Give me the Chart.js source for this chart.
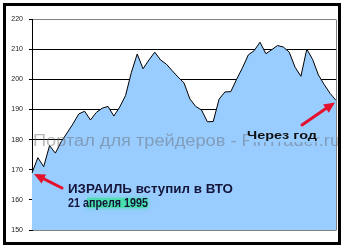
<!DOCTYPE html>
<html>
<head>
<meta charset="utf-8">
<script src="https://cdn.jsdelivr.net/npm/chart.js@4/dist/chart.umd.min.js"></script>
<style>
  html, body { margin: 0; padding: 0; background: #fff; }
</style>
</head>
<body>
<canvas id="chart" width="348" height="249"></canvas>
<script>
// weekly index values
const index = [168.9, 174, 171, 178, 175.5, 179.3, 182.2, 185.2, 188.5, 189.4,
  186.5, 189, 190.4, 191, 187.8, 190.8, 194.6, 202.3, 208.4, 203.5,
  206.4, 209, 206.4, 205, 202.8, 200.7, 198.8, 193.5, 191, 189.8,
  185.9, 186, 193.4, 195.8, 195.9, 200, 203.8, 208.1, 209.5, 212.3,
  208.5, 209.8, 211.2, 210.7, 209, 204, 201, 210, 206.6, 201.4,
  198.2, 195.3, 193];
const weeks = index.map((_, i) => i + 1);
const yMin = 150, yMax = 220, yStep = 10;

const watermark = 'Портал для трейдеров - FinTrader.ru';
const noteStart = ['ИЗРАИЛЬ вступил в ВТО', '21 апреля 1995'];
const noteEnd = 'Через год';

// squeeze/stretch text to a given width
function fitText(c, text, x, y, width, font) {
  c.font = font;
  const w = c.measureText(text).width;
  c.save();
  c.translate(x, y);
  c.scale(width / w, 1);
  c.fillText(text, 0, 0);
  c.restore();
}

function arrow(c, x1, y1, x2, y2, head, half) {
  const a = Math.atan2(y2 - y1, x2 - x1);
  const cos = Math.cos(a), sin = Math.sin(a);
  c.strokeStyle = '#e4102c';
  c.fillStyle = '#e4102c';
  c.lineWidth = 3;
  c.lineCap = 'round';
  c.beginPath();
  c.moveTo(x1, y1);
  c.lineTo(x2 - cos * head * 0.8, y2 - sin * head * 0.8);
  c.stroke();
  c.beginPath();
  c.moveTo(x2, y2);
  c.lineTo(x2 - cos * head + sin * half, y2 - sin * head - cos * half);
  c.lineTo(x2 - cos * head - sin * half, y2 - sin * head + cos * half);
  c.closePath();
  c.fill();
}

const notes = {
  id: 'notes',
  afterDraw(chart) {
    const c = chart.ctx;
    const area = chart.chartArea;
    const pts = chart.getDatasetMeta(0).data;
    const first = pts[0], last = pts[pts.length - 1];
    c.save();

    // top / right frame of the plot
    c.strokeStyle = '#808080';
    c.lineWidth = 1;
    c.beginPath();
    c.moveTo(Math.round(area.right) + 0.5, Math.round(area.top) + 0.5);
    c.lineTo(Math.round(area.right) + 0.5, Math.round(area.bottom) + 0.5);
    c.stroke();

    // watermark
    c.fillStyle = 'rgba(100,100,100,0.45)';
    c.textBaseline = 'alphabetic';
    fitText(c, watermark, area.left + 1, 146, 307, '16px "Liberation Sans", Arial, sans-serif');

    // "Через год" label with its own box
    c.fillStyle = '#99ccff';
    c.fillRect(249, 129, 68, 13);
    c.fillStyle = '#111';
    fitText(c, noteEnd, 247, 139, 70, 'bold 10px "Liberation Sans", Arial, sans-serif');

    // arrows
    arrow(c, 62, 188, first.x + 2, first.y + 1, 11, 5);
    arrow(c, 302, 125, last.x - 1, last.y + 2, 11, 5);

    // highlight behind the date
    c.save();
    c.fillStyle = 'rgba(70,225,170,0.85)';
    c.shadowColor = 'rgba(70,225,170,0.9)';
    c.shadowBlur = 4;
    c.fillRect(87, 198, 61, 10);
    c.restore();

    c.fillStyle = '#15153a';
    fitText(c, noteStart[0], 68, 193, 165, 'bold 13px "Liberation Sans", Arial, sans-serif');
    fitText(c, noteStart[1], 68, 207, 80, 'bold 13px "Liberation Sans", Arial, sans-serif');

    // outer frame
    c.strokeStyle = '#000';
    c.strokeRect(4.5, 4.5, 335, 239);
    c.restore();
  }
};

new Chart(document.getElementById('chart').getContext('2d'), {
  type: 'line',
  data: {
    labels: weeks,
    datasets: [{
      data: index,
      borderColor: '#000',
      borderWidth: 1,
      backgroundColor: '#99ccff',
      fill: 'start',
      pointRadius: 0,
      tension: 0
    }]
  },
  options: {
    responsive: false,
    animation: false,
    devicePixelRatio: 1,
    layout: { padding: { left: 0, top: 19, right: 12, bottom: 19 } },
    plugins: { legend: { display: false }, tooltip: { enabled: false } },
    scales: {
      x: { display: false, offset: false },
      y: {
        min: yMin,
        max: yMax,
        afterFit: s => { s.width = 32; },
        ticks: {
          stepSize: yStep,
          padding: 6,
          color: '#222',
          font: { family: '"Liberation Sans", Arial, sans-serif', size: 7 }
        },
        grid: {
          color: ctx => (ctx.tick && (ctx.tick.value === yMax || ctx.tick.value === yMin)) ? '#808080' : '#000',
          tickColor: '#000',
          tickLength: 3,
          lineWidth: 1
        },
        border: { color: '#000', width: 1 }
      }
    }
  },
  plugins: [notes]
});
</script>
</body>
</html>
